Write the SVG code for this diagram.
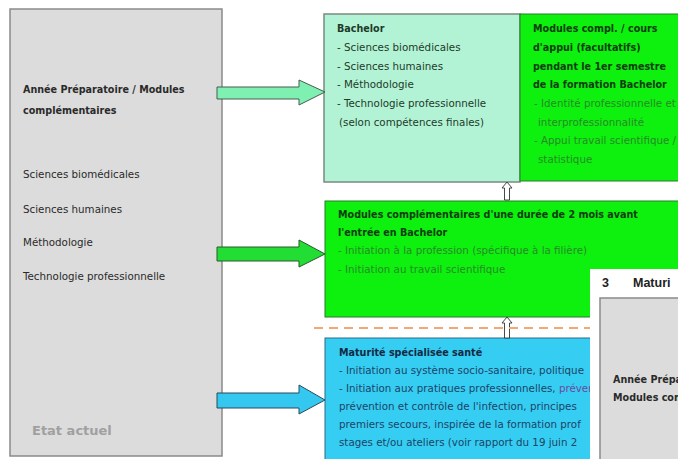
<svg xmlns="http://www.w3.org/2000/svg" width="678" height="459" viewBox="0 0 678 459">
<defs>
<style>
text{font-family:"DejaVu Sans","Liberation Sans",sans-serif;font-size:10.3px}
.b{font-weight:bold;font-size:9.6px}
.gray{fill:#dcdcdc;stroke:#8a8a8a;stroke-width:1.5}
.gt{fill:#2a2a2a}
.mint{fill:#b2f3d6;stroke:#7a8a80;stroke-width:1.5}
.green{fill:#0ef00e;stroke:#2a7a2a;stroke-width:1}
.cyan{fill:#36cdf2;stroke:#2a6a8a;stroke-width:1}
.mt{fill:#1e3a28}
.gd{fill:#0c3d0c}
.gl{fill:#278a27}
.cd{fill:#102a44}
.cl{fill:#1a4468}
.up{fill:#fff;stroke:#333;stroke-width:0.9}
</style>
</defs>
<rect width="678" height="459" fill="#fff"/>

<g id="etat-actuel">
<rect class="gray" x="10" y="9" width="212" height="447"/>
<text class="gt b" x="23" y="93">Année Préparatoire / Modules</text>
<text class="gt b" x="23" y="114">complémentaires</text>
<text class="gt" x="23" y="178">Sciences biomédicales</text>
<text class="gt" x="23" y="213">Sciences humaines</text>
<text class="gt" x="23" y="246">Méthodologie</text>
<text class="gt" x="23" y="280">Technologie professionnelle</text>
<text x="32" y="435" style="font-size:13px;font-weight:bold;fill:#a0a0a0">Etat actuel</text>
</g>

<g id="bachelor">
<rect class="mint" x="324" y="14" width="196" height="168"/>
<text class="mt b" x="337" y="32">Bachelor</text>
<text class="mt" x="337" y="51">- Sciences biomédicales</text>
<text class="mt" x="337" y="70">- Sciences humaines</text>
<text class="mt" x="337" y="88">- Méthodologie</text>
<text class="mt" x="337" y="107">- Technologie professionnelle</text>
<text class="mt" x="339" y="126">(selon compétences finales)</text>
</g>

<g id="modules-appui">
<rect class="green" x="520" y="14" width="170" height="167"/>
<text class="gd b" x="533" y="32">Modules compl. / cours</text>
<text class="gd b" x="533" y="51">d'appui  (facultatifs)</text>
<text class="gd b" x="533" y="70">pendant le 1er semestre</text>
<text class="gd b" x="533" y="88">de la formation Bachelor</text>
<text class="gl" x="534" y="107">- Identité professionnelle et</text>
<text class="gl" x="538" y="126">interprofessionnalité</text>
<text class="gl" x="534" y="144">- Appui travail scientifique /</text>
<text class="gl" x="538" y="163">statistique</text>
</g>

<g id="modules-2-mois">
<rect class="green" x="325" y="201" width="365" height="116"/>
<text class="gd b" x="338" y="218">Modules complémentaires d'une durée de 2 mois avant</text>
<text class="gd b" x="338" y="236">l'entrée en Bachelor</text>
<text class="gl" x="338" y="254">- Initiation à la profession (spécifique à la filière)</text>
<text class="gl" x="338" y="273">- Initiation au travail scientifique</text>
</g>

<g id="maturite">
<rect class="cyan" x="325" y="338" width="365" height="130"/>
<text class="cd b" x="339" y="356">Maturité spécialisée santé</text>
<text class="cl" x="339" y="374">- Initiation  au système socio-sanitaire, politique</text>
<text class="cl" x="339" y="392">- Initiation aux pratiques professionnelles, <tspan fill="#6a4aa0">prévention</tspan></text>
<text class="cl" x="339" y="410">prévention et contrôle de l'infection, principes</text>
<text class="cl" x="339" y="428">premiers secours, inspirée de la formation prof</text>
<text class="cl" x="339" y="446">stages et/ou ateliers  (voir rapport du 19 juin 2</text>
</g>

<g id="connectors">
<polygon points="217,87 299,87 299,80 325,92 299,105 299,99 217,99" fill="#7ef0b2" stroke="#4a5a52" stroke-width="1"/>
<polygon points="217,247 299,247 299,240 325,254 299,267 299,261 217,261" fill="#22dd33" stroke="#2a5a2a" stroke-width="1"/>
<polygon points="217,393 299,393 299,385 325,400 299,414 299,408 217,408" fill="#34c8f0" stroke="#2a4a5a" stroke-width="1"/>
<polygon class="up" points="507,182 502,188 504.5,188 504.5,200 509.5,200 509.5,188 512,188"/>
<polygon class="up" points="507,317 502,323 504.5,323 504.5,338 509.5,338 509.5,323 512,323"/>
<line x1="314" y1="328" x2="590" y2="328" stroke="#f0a878" stroke-width="2" stroke-dasharray="9 6"/>
</g>

<g id="overlay-section-3">
<rect x="590" y="269" width="100" height="195" fill="#fff"/>
<text x="602" y="287" style="font-family:'Liberation Sans',sans-serif;font-size:12.5px;font-weight:bold;fill:#222">3</text>
<text x="633" y="287" style="font-family:'Liberation Sans',sans-serif;font-size:12.5px;font-weight:bold;fill:#222">Maturi</text>
<rect class="gray" x="600" y="298" width="90" height="170"/>
<text class="gt b" x="613" y="383">Année Prépa</text>
<text class="gt b" x="613" y="401">Modules com</text>
</g>
</svg>
